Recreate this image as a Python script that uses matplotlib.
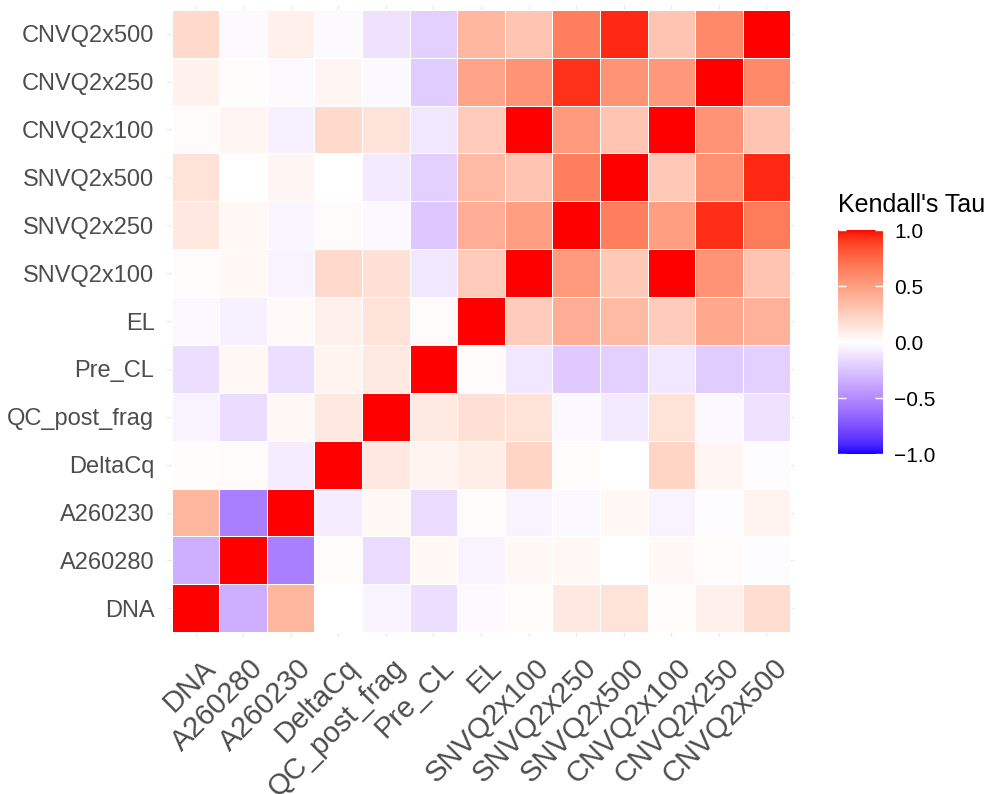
import numpy as np
import matplotlib
matplotlib.use("Agg")
import matplotlib.pyplot as plt
import matplotlib.transforms as mtransforms
from matplotlib.colors import ListedColormap

plt.rcParams['font.family'] = ['Liberation Sans', 'DejaVu Sans']

# variable names (bottom-to-top on y, left-to-right on x)
labels = ["DNA", "A260280", "A260230", "DeltaCq", "QC_post_frag", "Pre_CL", "EL",
          "SNVQ2x100", "SNVQ2x250", "SNVQ2x500", "CNVQ2x100", "CNVQ2x250", "CNVQ2x500"]

# Kendall's tau, one row per variable
tau_DNA = [1, -0.35, 0.38, 0.0, -0.05, -0.14, -0.02, 0.01, 0.12, 0.15, 0.01, 0.08, 0.18]
tau_A260280 = [-0.35, 1, -0.55, 0.02, -0.15, 0.04, -0.05, 0.04, 0.04, 0.0, 0.04, 0.02, -0.01]
tau_A260230 = [0.38, -0.55, 1, -0.08, 0.04, -0.15, 0.02, -0.05, -0.03, 0.04, -0.05, -0.01, 0.06]
tau_DeltaCq = [0.01, 0.02, -0.08, 1, 0.12, 0.06, 0.09, 0.22, 0.02, 0.0, 0.22, 0.05, -0.01]
tau_QC = [-0.05, -0.15, 0.04, 0.12, 1, 0.11, 0.16, 0.15, -0.03, -0.09, 0.15, -0.03, -0.12]
tau_PreCL = [-0.14, 0.04, -0.14, 0.06, 0.11, 1, 0.02, -0.1, -0.23, -0.2, -0.1, -0.22, -0.2]
tau_EL = [-0.03, -0.06, 0.03, 0.08, 0.15, 0.02, 1, 0.27, 0.42, 0.36, 0.27, 0.45, 0.4]
tau_SNV100 = [0.02, 0.04, -0.05, 0.2, 0.16, -0.1, 0.27, 1, 0.52, 0.28, 1, 0.55, 0.3]
tau_SNV250 = [0.12, 0.04, -0.04, 0.02, -0.03, -0.24, 0.42, 0.5, 1, 0.65, 0.5, 0.94, 0.66]
tau_SNV500 = [0.15, 0.0, 0.05, 0.0, -0.09, -0.2, 0.36, 0.3, 0.65, 1, 0.28, 0.56, 0.95]
tau_CNV100 = [0.02, 0.05, -0.06, 0.2, 0.15, -0.1, 0.27, 1, 0.52, 0.3, 1, 0.55, 0.3]
tau_CNV250 = [0.07, 0.01, -0.02, 0.05, -0.03, -0.22, 0.47, 0.55, 0.93, 0.55, 0.53, 1, 0.6]
tau_CNV500 = [0.2, -0.02, 0.08, -0.02, -0.12, -0.2, 0.37, 0.3, 0.65, 0.95, 0.3, 0.6, 1]

tau = np.array([tau_DNA, tau_A260280, tau_A260230, tau_DeltaCq, tau_QC, tau_PreCL, tau_EL,
                tau_SNV100, tau_SNV250, tau_SNV500, tau_CNV100, tau_CNV250, tau_CNV500])

# blue-white-red gradient interpolated in CIELAB (like ggplot's gradient2)
M = np.array([[0.4124, 0.3576, 0.1805], [0.2126, 0.7152, 0.0722], [0.0193, 0.1192, 0.9505]])
WHITE = np.array([0.95047, 1.0, 1.08883])


def to_lab(rgb):
    rgb = np.asarray(rgb, float)
    lin = np.where(rgb <= 0.04045, rgb / 12.92, ((rgb + 0.055) / 1.055) ** 2.4)
    xyz = (lin @ M.T) / WHITE
    f = np.where(xyz > 216 / 24389, np.cbrt(xyz), (24389 / 27 * xyz + 16) / 116)
    return np.stack([116 * f[..., 1] - 16, 500 * (f[..., 0] - f[..., 1]), 200 * (f[..., 1] - f[..., 2])], -1)


def from_lab(lab):
    fy = (lab[..., 0] + 16) / 116
    fx = fy + lab[..., 1] / 500
    fz = fy - lab[..., 2] / 200
    finv = lambda t: np.where(t ** 3 > 216 / 24389, t ** 3, (116 * t - 16) / (24389 / 27))
    xyz = np.stack([finv(fx), finv(fy), finv(fz)], -1) * WHITE
    lin = np.clip(xyz @ np.linalg.inv(M).T, 0, 1)
    rgb = np.where(lin <= 0.0031308, 12.92 * lin, 1.055 * lin ** (1 / 2.4) - 0.055)
    return np.clip(rgb, 0, 1)


lab_blue, lab_white, lab_red = to_lab([0, 0, 1]), to_lab([1, 1, 1]), to_lab([1, 0, 0])
t = np.linspace(-1, 1, 511)[:, None]
lab = np.where(t < 0, lab_white + (-t) * (lab_blue - lab_white), lab_white + t * (lab_red - lab_white))
cmap = ListedColormap(from_lab(lab))

fig = plt.figure(figsize=(10.06, 7.94), dpi=100)
ax = fig.add_axes([167 / 1006, 1 - 637 / 794, 628 / 1006, 632 / 794])

n = len(labels)
ax.set_xlim(-0.6, n - 0.4)
ax.set_ylim(-0.6, n - 0.4)
for i in range(n):
    ax.axvline(i, color='#EBEBEB', lw=1, zorder=0)
    ax.axhline(i, color='#EBEBEB', lw=1, zorder=0)

edges = np.arange(n + 1) - 0.5
ax.pcolormesh(edges, edges, tau, cmap=cmap, vmin=-1, vmax=1,
              edgecolors='white', linewidth=0.5, zorder=1)

for s in ax.spines.values():
    s.set_visible(False)
ax.set_xticks(range(n))
ax.set_yticks(range(n))
ax.set_yticklabels(labels, fontsize=17, color='#4D4D4D')
ax.set_xticklabels(labels, fontsize=21, color='#4D4D4D', rotation=45,
                   ha='right', va='top', rotation_mode='anchor')
ax.tick_params(axis='both', length=0)
ax.tick_params(axis='y', pad=9)
ax.tick_params(axis='x', pad=12)
shift = mtransforms.ScaledTranslation(6 / 100, 0, fig.dpi_scale_trans)
for lbl in ax.get_xticklabels():
    lbl.set_transform(lbl.get_transform() + shift)

cax = fig.add_axes([838 / 1006, 1 - 454 / 794, 45 / 1006, 224 / 794])
sm = plt.cm.ScalarMappable(cmap=cmap, norm=plt.Normalize(-1, 1))
cb = fig.colorbar(sm, cax=cax, ticks=[-1, -0.5, 0, 0.5, 1])
cb.outline.set_visible(False)
cb.set_ticklabels(["\u22121.0", "\u22120.5", "0.0", "0.5", "1.0"])
cax.tick_params(axis='y', direction='in', length=6, width=1, colors='white',
                left=True, right=True, labelsize=15, labelcolor='black', pad=8)
fig.text(838 / 1006, 1 - 212 / 794, "Kendall's Tau", fontsize=18, va='baseline', ha='left')

fig.savefig("out.png", dpi=100)
